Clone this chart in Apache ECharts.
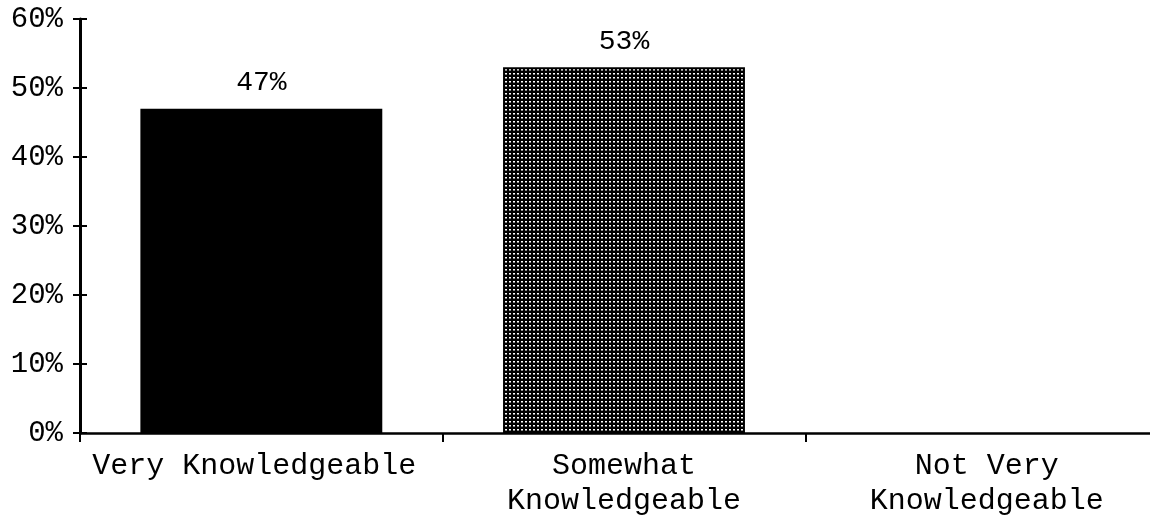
<!DOCTYPE html>
<html>
<head>
<meta charset="utf-8">
<style>
  html, body { margin: 0; padding: 0; background: #fff; }
  #chart { width: 1150px; height: 524px; }
</style>
<script src="https://cdn.jsdelivr.net/npm/echarts@6/dist/echarts.min.js"></script>
</head>
<body>
<div id="chart"></div>
<script>
// Share of respondents by self-rated knowledge level
const categories = ['Very Knowledgeable', 'Somewhat\nKnowledgeable', 'Not Very\nKnowledgeable'];
const values = [47, 53, 0];
const yTicks = [0, 10, 20, 30, 40, 50, 60];

const FONT = '"Liberation Mono", "Courier New", monospace';

// Dotted screen fill: dark tile with a small light dot
function dotPattern() {
  const c = document.createElement('canvas');
  c.width = 4; c.height = 4;
  const ctx = c.getContext('2d');
  ctx.fillStyle = '#000';
  ctx.fillRect(0, 0, 4, 4);
  ctx.fillStyle = '#fff';
  ctx.fillRect(1, 1, 2, 1);
  ctx.fillStyle = '#888';
  ctx.fillRect(1, 2, 2, 1);
  return c;
}

const fills = [
  { color: '#000', borderColor: '#000', borderWidth: 0 },
  { color: { image: dotPattern(), repeat: 'repeat' }, borderColor: '#000', borderWidth: 2 },
  { color: '#000', borderColor: '#000', borderWidth: 0 }
];

// the single-line first label sits a little left of its slot centre
const labelPads = [[0, 14, 0, 0], [0, 0, 0, 0], [0, 0, 0, 0]];

const chart = echarts.init(document.getElementById('chart'), null, { renderer: 'canvas' });

const yMin = yTicks[0];
const yMax = yTicks[yTicks.length - 1];
const yStep = yTicks[1] - yTicks[0];

chart.setOption({
  animation: false,
  backgroundColor: '#fff',
  grid: { left: 80, top: 19, bottom: 91, right: -18, outerBoundsMode: 'none', containLabel: false },
  xAxis: {
    type: 'category',
    data: categories.map((c, i) => ({ value: c, textStyle: { padding: labelPads[i] } })),
    boundaryGap: true,
    axisLine: { lineStyle: { color: '#000', width: 2.5 } },
    axisTick: { show: true, alignWithLabel: false, length: 9, lineStyle: { color: '#000', width: 2 } },
    axisLabel: {
      color: '#000', fontFamily: FONT, fontSize: 30, lineHeight: 35, margin: 16,
      interval: 0
    }
  },
  yAxis: [{
    type: 'value',
    min: yMin, max: yMax, interval: yStep,
    axisLine: { show: true, lineStyle: { color: '#000', width: 3 } },
    axisTick: { show: true, length: 7, lineStyle: { color: '#000', width: 2 } },
    splitLine: { show: false },
    axisLabel: {
      color: '#000', fontFamily: FONT, fontSize: 29, margin: 17,
      formatter: v => v + '%'
    }
  }, {
    type: 'value',
    position: 'left',
    min: yMin, max: yMax, interval: yStep,
    axisLine: { show: false },
    axisTick: { show: true, inside: true, length: 7, lineStyle: { color: '#000', width: 2 } },
    splitLine: { show: false },
    axisLabel: { show: false }
  }],
  series: [{
    type: 'bar',
    yAxisIndex: 0,
    barWidth: '66.7%',
    data: values.map((v, i) => ({ value: v, itemStyle: fills[i] })),
    label: {
      show: true,
      position: 'top',
      distance: 12,
      color: '#000',
      fontFamily: FONT,
      fontSize: 28,
      formatter: p => (p.value > 0 ? p.value + '%' : '')
    }
  }]
});
</script>
</body>
</html>
